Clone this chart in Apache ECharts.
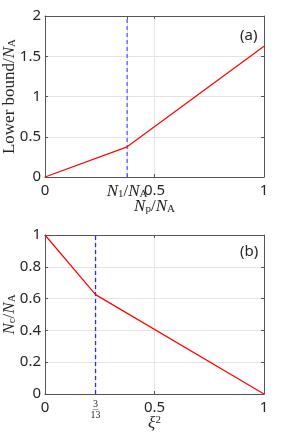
<!DOCTYPE html>
<html>
<head>
<meta charset="utf-8">
<script src="https://cdn.jsdelivr.net/npm/echarts@6/dist/echarts.min.js"></script>
<style>html,body{margin:0;padding:0;background:#fff;}#c{width:291px;height:436px;}</style>
</head>
<body>
<div id="c"></div>
<script>
// Panel (a)
const xA = [0, 0.375, 1];
const yA = [0, 0.375, 1.625];
const vlineA_x = [0.375, 0.375];
const vlineA_y = [0, 2];
const xTicksA = [0, 0.375, 0.5, 1];
const xTickLabelsA = ['0', '{i|N}{s|1}{r|/}{i|N}{s|A}', '0.5', '1'];
const yTicksA = [0, 0.5, 1, 1.5, 2];

// Panel (b)
const xB = [0, 0.2308, 1];
const yB = [1, 0.625, 0];
const vlineB_x = [0.2308, 0.2308];
const vlineB_y = [0, 1];
const xTicksB = [0, 0.2308, 0.5, 1];
const xTickLabelsB = ['0', '{n|3}\n{bar|──}\n{d|13}', '0.5', '1'];
const yTicksB = [0, 0.2, 0.4, 0.6, 0.8, 1];

const TXT = '#262626';
const AX = '#555555';
const GRIDC = '#e4e4e4';
const SANS = 'Noto Sans';
const SERIF = 'Liberation Serif';

const richMath = {
  i: {fontFamily: SERIF, fontStyle: 'italic', fontSize: 17, color: TXT},
  r: {fontFamily: SERIF, fontSize: 17, color: TXT},
  s: {fontFamily: SERIF, fontSize: 11, color: TXT, verticalAlign: 'bottom', padding: [6, 0, 0, 0]},
  sup: {fontFamily: SERIF, fontSize: 11, color: TXT, verticalAlign: 'top', padding: [0, 0, 6, 0]},
  n: {fontFamily: SERIF, fontSize: 10, color: TXT, align: 'center', lineHeight: 8},
  d: {fontFamily: SERIF, fontSize: 10, color: TXT, align: 'center', lineHeight: 9},
  bar: {fontFamily: 'DejaVu Sans Mono', fontSize: 5, lineHeight: 3, color: TXT, align: 'center'}
};

function lookup(ticks, labels) {
  return function (v) {
    for (let k = 0; k < ticks.length; k++) if (Math.abs(ticks[k] - v) < 1e-6) return labels[k];
    return '';
  };
}

function xMain(gi, ticks, labels) {
  return {
    gridIndex: gi, type: 'value', position: 'bottom', min: 0, max: 1, interval: 0.5,
    axisLine: {show: true, onZero: false, lineStyle: {color: AX, width: 1}},
    axisTick: {show: true, inside: true, length: 3, customValues: ticks, lineStyle: {color: AX}},
    axisLabel: {show: true, customValues: ticks, formatter: lookup(ticks, labels), margin: 6,
      fontFamily: SANS, fontSize: 15, color: TXT, rich: richMath, hideOverlap: false},
    splitLine: {show: true, lineStyle: {color: GRIDC, width: 1}}
  };
}
function xTop(gi, ticks) {
  return {
    gridIndex: gi, type: 'value', position: 'top', min: 0, max: 1, interval: 0.5,
    axisLine: {show: true, onZero: false, lineStyle: {color: AX, width: 1}},
    axisTick: {show: true, inside: true, length: 3, customValues: ticks, lineStyle: {color: AX}},
    axisLabel: {show: false}, splitLine: {show: false}
  };
}
function yMain(gi, max, interval, nameRich) {
  return {
    gridIndex: gi, type: 'value', position: 'left', min: 0, max: max, interval: interval,
    name: nameRich, nameLocation: 'middle', nameGap: 27, nameRotate: 90, nameMoveOverlap: false,
    nameTextStyle: {rich: richMath, color: TXT},
    axisLine: {show: true, onZero: false, lineStyle: {color: AX, width: 1}},
    axisTick: {show: true, inside: true, length: 3, lineStyle: {color: AX}},
    axisLabel: {show: true, margin: 4, fontFamily: SANS, fontSize: 15, color: TXT,
      formatter: function (v) { return String(+v.toFixed(2)); }},
    splitLine: {show: true, lineStyle: {color: GRIDC, width: 1}}
  };
}
function yRight(gi, max, interval) {
  return {
    gridIndex: gi, type: 'value', position: 'right', min: 0, max: max, interval: interval,
    axisLine: {show: true, onZero: false, lineStyle: {color: AX, width: 1}},
    axisTick: {show: true, inside: true, length: 3, lineStyle: {color: AX}},
    axisLabel: {show: false}, splitLine: {show: false}
  };
}

const xa0 = xMain(0, xTicksA, xTickLabelsA);
xa0.name = '{i|N}{s|p}{r|/}{i|N}{s|A}';
xa0.nameLocation = 'middle'; xa0.nameGap = 21; xa0.nameMoveOverlap = false;
xa0.nameTextStyle = {rich: richMath, color: TXT};
const xb0 = xMain(1, xTicksB, xTickLabelsB);
xb0.name = '{i|ξ}{sup|2}';
xb0.nameLocation = 'middle'; xb0.nameGap = 21; xb0.nameMoveOverlap = false;
xb0.nameTextStyle = {rich: richMath, color: TXT};

const chart = echarts.init(document.getElementById('c'), null, {renderer: 'canvas'});
chart.setOption({
  animation: false,
  backgroundColor: '#fff',
  title: [
    {text: '(a)', left: 235, top: 23, textStyle: {fontFamily: SANS, fontSize: 15, fontWeight: 'normal', color: TXT}},
    {text: '(b)', left: 235, top: 239, textStyle: {fontFamily: SANS, fontSize: 15, fontWeight: 'normal', color: TXT}}
  ],
  grid: [
    {left: 45, top: 16, width: 219, height: 161, containLabel: false, outerBoundsMode: 'none'},
    {left: 45, top: 235, width: 219, height: 159, containLabel: false, outerBoundsMode: 'none'}
  ],
  xAxis: [xa0, xTop(0, xTicksA), xb0, xTop(1, xTicksB)],
  yAxis: [
    yMain(0, 2, 0.5, '{r|Lower bound/}{i|N}{s|A}'), yRight(0, 2, 0.5),
    yMain(1, 1, 0.2, '{i|N}{s|c}{r|/}{i|N}{s|A}'), yRight(1, 1, 0.2)
  ],
  series: [
    {type: 'line', xAxisIndex: 0, yAxisIndex: 0, symbol: 'none', silent: true,
     data: vlineA_x.map((x, k) => [x, vlineA_y[k]]),
     lineStyle: {color: '#5a5aff', width: 1.3, type: [4, 3]}},
    {type: 'line', xAxisIndex: 0, yAxisIndex: 0, symbol: 'none', silent: true,
     data: xA.map((x, k) => [x, yA[k]]), lineStyle: {color: '#ff0000', width: 1.2}},
    {type: 'line', xAxisIndex: 2, yAxisIndex: 2, symbol: 'none', silent: true,
     data: vlineB_x.map((x, k) => [x, vlineB_y[k]]),
     lineStyle: {color: '#2a2aff', width: 1.3, type: [4, 3]}},
    {type: 'line', xAxisIndex: 2, yAxisIndex: 2, symbol: 'none', silent: true,
     data: xB.map((x, k) => [x, yB[k]]), lineStyle: {color: '#ff0000', width: 1.2}}
  ]
});
</script>
</body>
</html>
